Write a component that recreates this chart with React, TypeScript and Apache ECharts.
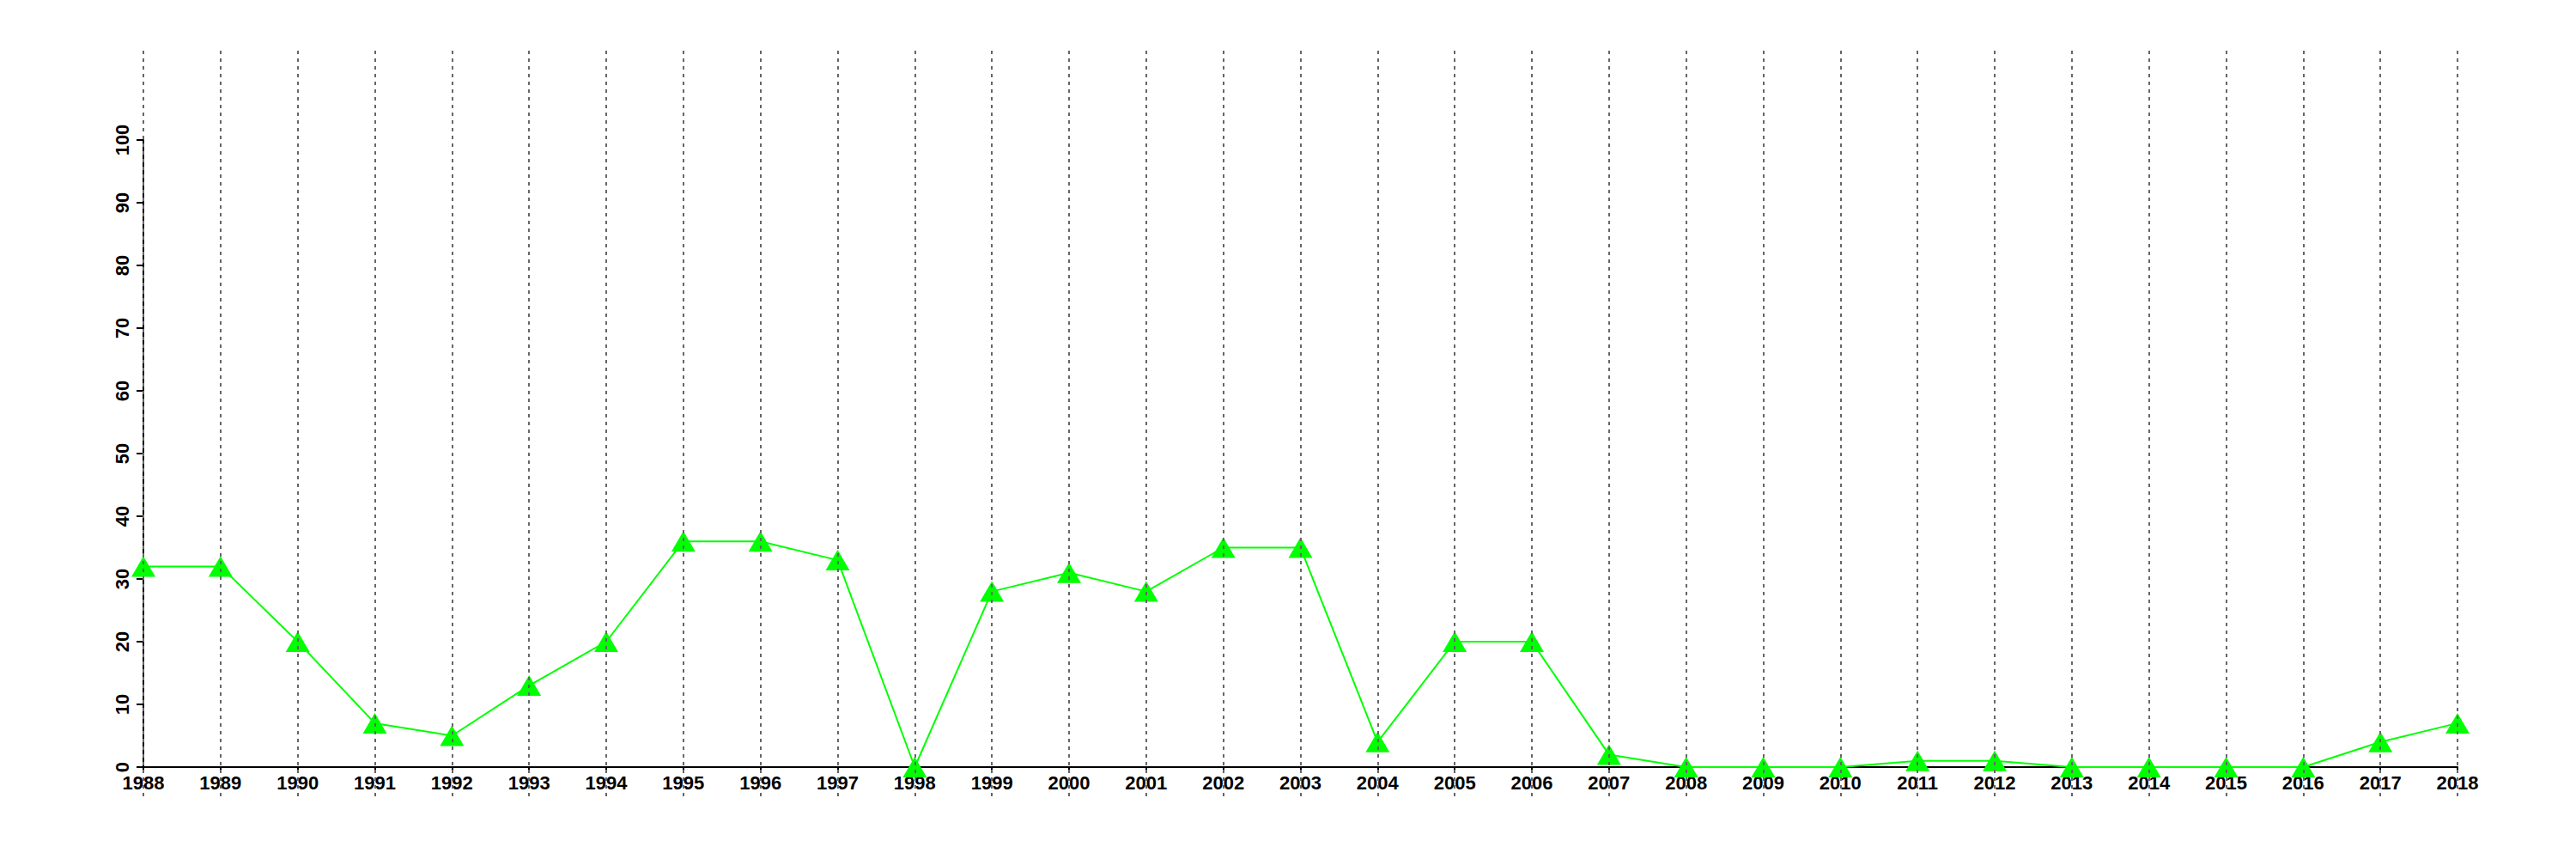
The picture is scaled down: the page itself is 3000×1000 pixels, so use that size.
import React, { useEffect, useRef } from "react";
import * as echarts from "echarts";

const years = [
  "1988", "1989", "1990", "1991", "1992", "1993", "1994", "1995", "1996", "1997",
  "1998", "1999", "2000", "2001", "2002", "2003", "2004", "2005", "2006", "2007",
  "2008", "2009", "2010", "2011", "2012", "2013", "2014", "2015", "2016", "2017", "2018",
];
const values = [
  32, 32, 20, 7, 5, 13, 20, 36, 36, 33,
  0, 28, 31, 28, 35, 35, 4, 20, 20, 2,
  0, 0, 0, 1, 1, 0, 0, 0, 0, 4, 7,
];
const yMin = 0;
const yMax = 100;
const yStep = 10;

export default function App() {
  const ref = useRef<HTMLDivElement>(null);
  useEffect(() => {
    if (!ref.current) return;
    const chart = echarts.init(ref.current, null, { renderer: "svg" });
    const font = "'Liberation Sans', Arial, Helvetica, sans-serif";
    const left = 167;
    const right = 138;
    chart.setOption({
      animation: false,
      backgroundColor: "#ffffff",
      grid: [
        { left, right, top: 163, bottom: 107, containLabel: false },
        { left, right, top: 59, bottom: 73, containLabel: false },
      ],
      xAxis: [
        {
          type: "category",
          gridIndex: 0,
          data: years,
          boundaryGap: false,
          axisLine: { show: true, lineStyle: { color: "#000", width: 2 } },
          axisTick: { show: true, length: 6, alignWithLabel: true, lineStyle: { color: "#000", width: 2 } },
          axisLabel: {
            interval: 0,
            margin: 7,
            color: "#000",
            fontFamily: font,
            fontSize: 22,
            fontWeight: "bold",
          },
          splitLine: { show: false },
        },
        {
          type: "category",
          gridIndex: 1,
          data: years,
          boundaryGap: false,
          z: 10,
          axisLine: { show: false },
          axisTick: { show: false },
          axisLabel: { show: false },
          splitLine: {
            show: true,
            interval: 0,
            lineStyle: { color: "#666666", width: 2, type: [4, 5] },
          },
        },
      ],
      yAxis: [
        {
          type: "value",
          gridIndex: 0,
          min: yMin,
          max: yMax,
          interval: yStep,
          axisLine: { show: true, lineStyle: { color: "#000", width: 2 } },
          axisTick: { show: true, length: 8, lineStyle: { color: "#000", width: 2 } },
          axisLabel: {
            rotate: 90,
            margin: 14,
            color: "#000",
            fontFamily: font,
            fontSize: 22,
            fontWeight: "bold",
          },
          splitLine: { show: false },
        },
        {
          type: "value",
          gridIndex: 1,
          min: 0,
          max: 1,
          show: false,
          splitLine: { show: false },
        },
      ],
      series: [
        {
          type: "line",
          xAxisIndex: 0,
          yAxisIndex: 0,
          data: values,
          z: 2,
          symbol: "triangle",
          symbolSize: [28, 24],
          showAllSymbol: true,
          lineStyle: { color: "#00ff00", width: 2 },
          itemStyle: { color: "#00ff00", borderWidth: 0 },
        },
      ],
    });
    return () => chart.dispose();
  }, []);
  return (
    <div
      ref={ref}
      style={{ position: "fixed", left: 0, top: 0, width: 3000, height: 1000, background: "#fff" }}
    />
  );
}
